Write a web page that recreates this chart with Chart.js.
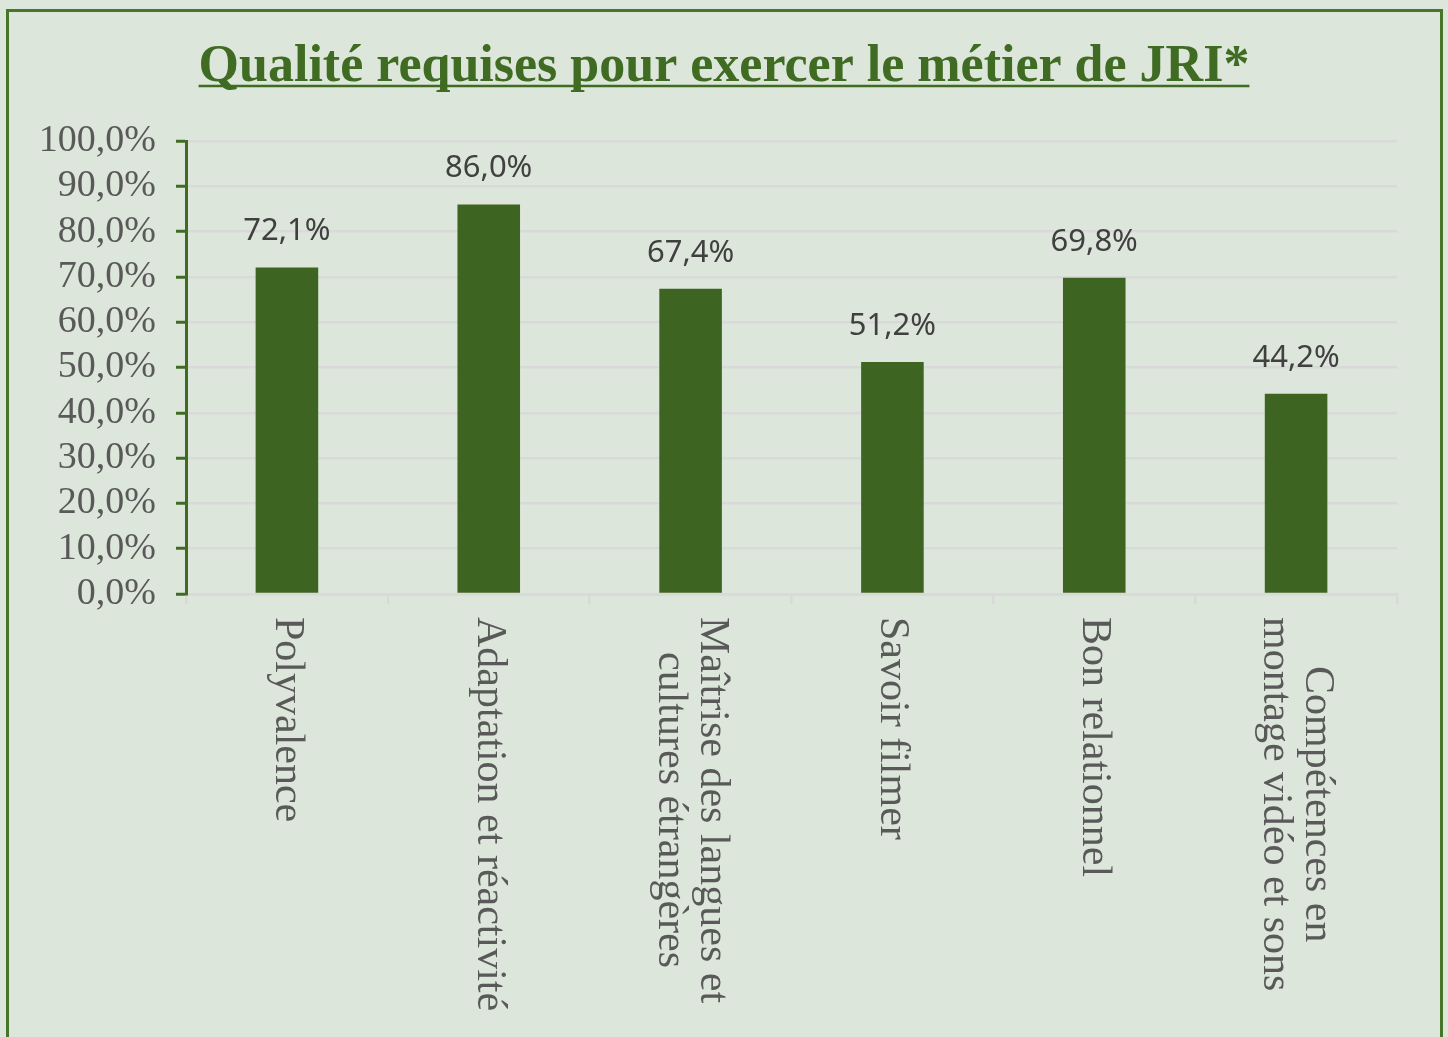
<!DOCTYPE html>
<html lang="fr">
<head>
<meta charset="utf-8">
<script src="https://cdn.jsdelivr.net/npm/chart.js@4.4.1/dist/chart.umd.min.js"></script>
<style>
    html, body { margin: 0; padding: 0; background: #dde6da; overflow: hidden; }
    #cadre { position: absolute; left: 6px; top: 9px; width: 1437px; height: 1100px; box-sizing: border-box; border: 3px solid #477529; }
    #graphique { position: absolute; left: 0; top: 0; }
</style>
</head>
<body>
<div id="cadre"></div>
<canvas id="graphique" width="1448" height="1037"></canvas>
<script>
// Données
const titre = 'Qualité requises pour exercer le métier de JRI*';
const categories = [
    ['Polyvalence'],
    ['Adaptation et réactivité'],
    ['Maîtrise des langues et', 'cultures étrangères'],
    ['Savoir filmer'],
    ['Bon relationnel'],
    ['Compétences en', 'montage vidéo et sons']
];
const valeurs = [72.1, 86.0, 67.4, 51.2, 69.8, 44.2];
const axeMin = 0;
const axeMax = 100;
const axePas = 10;

const VERT_FONCE = '#3e6421';
const VERT_TITRE = '#3f6b22';
const GRIS_TEXTE = '#595959';
const GRIS_GRILLE = '#d9d9d9';

function formaterPourcent(v) {
    return v.toFixed(1).replace('.', ',') + '%';
}

// Titre souligné, étiquettes de valeurs et libellés verticaux
const pluginDessin = {
    id: 'dessinJRI',
    afterDatasetsDraw(chart) {
        const ctx = chart.ctx;
        const meta = chart.getDatasetMeta(0);
        ctx.save();
        ctx.font = '31px "Noto Sans"';
        ctx.fillStyle = '#404040';
        ctx.textAlign = 'center';
        ctx.textBaseline = 'alphabetic';
        meta.data.forEach((barre, i) => {
            ctx.fillText(formaterPourcent(valeurs[i]), barre.x, barre.y - 27);
        });
        ctx.restore();
    },
    afterDraw(chart) {
        const ctx = chart.ctx;

        // Titre
        ctx.save();
        ctx.font = 'bold 52px "Liberation Serif"';
        ctx.fillStyle = VERT_TITRE;
        ctx.textAlign = 'center';
        ctx.textBaseline = 'alphabetic';
        const cx = chart.width / 2;
        ctx.fillText(titre, cx, 81);
        const w = ctx.measureText(titre).width;
        ctx.strokeStyle = VERT_TITRE;
        ctx.lineWidth = 2.5;
        ctx.beginPath();
        ctx.moveTo(cx - w / 2, 86);
        ctx.lineTo(cx + w / 2, 86);
        ctx.stroke();
        ctx.restore();

        // Libellés de l'axe X, tournés de 90° (lecture de haut en bas)
        const sx = chart.scales.x;
        const haut = chart.chartArea.bottom + 23;
        ctx.save();
        ctx.font = '42px "Liberation Serif"';
        ctx.fillStyle = GRIS_TEXTE;
        ctx.textAlign = 'center';
        ctx.textBaseline = 'middle';
        categories.forEach((lignes, i) => {
            const x = sx.getPixelForValue(i);
            const larg = Math.max(...lignes.map(l => ctx.measureText(l).width));
            const n = lignes.length;
            ctx.save();
            ctx.translate(x, haut);
            ctx.rotate(Math.PI / 2);
            lignes.forEach((l, k) => {
                ctx.fillText(l, larg / 2, (k - (n - 1) / 2) * 42);
            });
            ctx.restore();
        });
        ctx.restore();
    }
};

const ctx = document.getElementById('graphique').getContext('2d');
new Chart(ctx, {
    type: 'bar',
    data: {
        labels: categories,
        datasets: [{
            data: valeurs,
            backgroundColor: VERT_FONCE,
            borderWidth: 0,
            barPercentage: 0.31,
            categoryPercentage: 1
        }]
    },
    options: {
        responsive: false,
        animation: false,
        layout: { padding: { top: 141, right: 51, left: 0, bottom: 0 } },
        plugins: {
            legend: { display: false },
            tooltip: { enabled: false },
            title: { display: false }
        },
        scales: {
            x: {
                offset: true,
                grid: {
                    offset: true,
                    drawOnChartArea: false,
                    drawTicks: true,
                    tickLength: 10,
                    color: GRIS_GRILLE,
                    lineWidth: 2.5
                },
                border: { color: GRIS_GRILLE, width: 2.5 },
                ticks: { display: false },
                afterFit: s => { s.height = 443; }
            },
            y: {
                min: axeMin,
                max: axeMax,
                ticks: {
                    stepSize: axePas,
                    autoSkip: false,
                    padding: 20,
                    color: GRIS_TEXTE,
                    font: { family: '"Liberation Serif"', size: 38 },
                    callback: v => formaterPourcent(v)
                },
                grid: {
                    color: GRIS_GRILLE,
                    lineWidth: 2.5,
                    tickLength: 10,
                    tickColor: VERT_TITRE,
                    tickWidth: 3
                },
                border: { color: VERT_TITRE, width: 3 },
                afterFit: s => { s.width = 186; }
            }
        }
    },
    plugins: [pluginDessin]
});
</script>
</body>
</html>
